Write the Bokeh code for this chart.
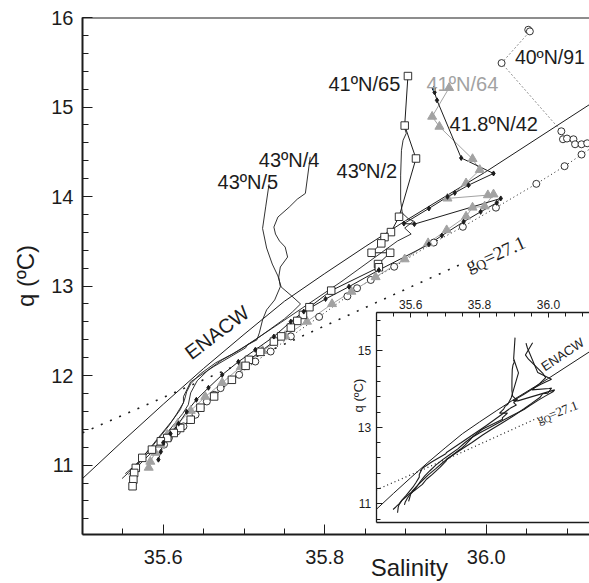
from bokeh.plotting import figure
from bokeh.models import Range1d, LinearAxis, FixedTicker, Span, Label, PrintfTickFormatter
from bokeh.embed import file_html
from bokeh.resources import INLINE
import math

FONT = "Liberation Sans"
SERIF = "Liberation Serif"
INK = "#1c1c1c"
GRAY = "#a2a2a2"

# ---------------- data (Salinity, potential temperature) ----------------
enacw_s = [35.50, 35.55, 35.60, 35.65, 35.70, 35.75, 35.80, 35.85, 35.90, 36.00, 36.13]
enacw_t = [10.85, 11.27, 11.68, 12.08, 12.46, 12.83, 13.14, 13.44, 13.73, 14.28, 15.04]

gam_s = [35.50, 35.74, 35.975]
gam_t = [11.36, 12.31, 13.27]

st65_s = [35.903, 35.899, 35.913, 35.892, 35.882, 35.874, 35.870, 35.858, 35.881, 35.866, 35.867,
          35.808, 35.781, 35.773, 35.766, 35.758, 35.746, 35.737, 35.720, 35.706, 35.702, 35.685,
          35.663, 35.646, 35.634, 35.621, 35.613, 35.605, 35.597, 35.586, 35.574, 35.566, 35.564,
          35.563, 35.562]
st65_t = [15.346, 14.793, 14.425, 13.774, 13.603, 13.547, 13.477, 13.372, 13.372, 13.246, 13.210,
          12.949, 12.764, 12.678, 12.611, 12.536, 12.438, 12.380, 12.265, 12.176, 12.109, 11.953,
          11.767, 11.641, 11.507, 11.415, 11.359, 11.303, 11.266, 11.173, 11.081, 10.969, 10.913,
          10.838, 10.764]

st91_s = [36.052, 36.054, 36.019, 36.093, 36.095, 36.100, 36.108, 36.110, 36.118, 36.125, 36.135,
          36.118, 36.097, 36.062, 36.012, 35.971, 35.935, 35.886, 35.857, 35.840, 35.828, 35.793,
          35.758, 35.733, 35.714, 35.694, 35.671, 35.663, 35.654, 35.646, 35.640, 35.634, 35.625,
          35.617, 35.607, 35.601, 35.594]
st91_t = [15.863, 15.845, 15.491, 14.729, 14.640, 14.648, 14.640, 14.584, 14.584, 14.595, 14.573,
          14.469, 14.339, 14.142, 13.876, 13.662, 13.486, 13.216, 13.068, 12.976, 12.886, 12.656,
          12.438, 12.269, 12.157, 12.009, 11.860, 11.786, 11.711, 11.638, 11.563, 11.507, 11.433,
          11.377, 11.303, 11.229, 11.173]

st64_s = [35.954, 35.933, 35.942, 35.983, 35.992, 35.975, 35.952, 36.002, 36.009, 35.998, 35.983,
          35.975, 35.951, 35.928, 35.899, 35.863, 35.833, 35.809, 35.778, 35.751, 35.723, 35.696,
          35.673, 35.652, 35.634, 35.618, 35.605, 35.597, 35.590, 35.584, 35.582]
st64_t = [15.214, 14.893, 14.781, 14.420, 14.298, 14.149, 13.979, 14.016, 14.025, 13.891, 13.878,
          13.778, 13.625, 13.480, 13.300, 13.101, 12.938, 12.800, 12.603, 12.444, 12.277, 12.098,
          11.920, 11.764, 11.608, 11.463, 11.340, 11.229, 11.139, 11.039, 10.972]

st42_s = [35.935, 35.936, 35.939, 35.969, 36.009, 35.978, 35.961, 35.952, 35.929, 35.898, 35.911,
          36.018, 36.013, 35.993, 35.972, 35.945, 35.929, 35.867, 35.830, 35.801, 35.774, 35.758,
          35.737, 35.714, 35.693, 35.673, 35.656, 35.641, 35.629, 35.619, 35.609, 35.600, 35.597,
          35.594]
st42_t = [15.203, 15.164, 15.075, 14.431, 14.258, 14.127, 14.041, 13.997, 13.867, 13.698, 13.692,
          13.979, 13.930, 13.829, 13.718, 13.564, 13.466, 13.179, 12.993, 12.856, 12.715, 12.603,
          12.436, 12.288, 12.154, 12.009, 11.864, 11.730, 11.596, 11.463, 11.351, 11.251, 11.150,
          11.061]

st2_s = [35.899, 35.901, 35.897, 35.895, 35.894, 35.894, 35.896, 35.904, 35.910, 35.899, 35.907,
         35.890, 35.820, 35.745, 35.704, 35.702, 35.662, 35.634, 35.625, 35.625, 35.616, 35.607,
         35.597, 35.587, 35.576, 35.567, 35.557, 35.549]
st2_t = [14.763, 14.707, 14.629, 14.517, 14.239, 13.960, 13.815, 13.748, 13.726, 13.648, 13.581,
         13.503, 13.046, 12.589, 12.343, 12.310, 12.098, 11.931, 11.764, 11.697, 11.563, 11.440,
         11.329, 11.217, 11.106, 11.006, 10.916, 10.850]

st4_s = [35.782, 35.776, 35.766, 35.756, 35.742, 35.737, 35.739, 35.744, 35.751, 35.754, 35.745,
         35.743, 35.745, 35.738, 35.728, 35.723, 35.719, 35.716, 35.704, 35.686, 35.665, 35.646,
         35.634, 35.629, 35.626, 35.621, 35.612, 35.602, 35.592, 35.582, 35.572, 35.562, 35.553]
st4_t = [14.443, 14.035, 13.971, 13.882, 13.771, 13.659, 13.581, 13.503, 13.436, 13.324, 13.213,
         13.101, 12.993, 12.845, 12.734, 12.622, 12.477, 12.399, 12.343, 12.243, 12.143, 12.020,
         11.909, 11.819, 11.719, 11.619, 11.507, 11.396, 11.284, 11.173, 11.061, 10.972, 10.905]

st5_s = [35.731, 35.727, 35.723, 35.728, 35.735, 35.742, 35.746, 35.759, 35.770, 35.760, 35.750,
         35.733, 35.714, 35.693, 35.673, 35.656, 35.642, 35.634, 35.631, 35.624, 35.614, 35.604,
         35.594, 35.584, 35.574, 35.566, 35.557]
st5_t = [14.138, 13.893, 13.644, 13.425, 13.246, 13.113, 12.990, 12.890, 12.800, 12.711, 12.633,
         12.522, 12.399, 12.277, 12.176, 12.065, 11.942, 11.808, 11.674, 11.574, 11.463, 11.351,
         11.240, 11.128, 11.039, 10.961, 10.894]

x_ticks = [35.6, 35.8, 36.0]
y_ticks = [11, 12, 13, 14, 15, 16]
inset_y_ticks = [11, 13, 15]

# ---------------- layout ----------------
W, H = 589, 583
LEFT, TOP, BOTTOM = 82, 17, 48
PX_S = 807.5                      # main px per salinity unit
X0, Y0, Y1 = 35.5, 10.225, 16.0
X1 = X0 + (W - LEFT) / PX_S

p = figure(width=W, height=H, x_range=Range1d(X0, X1), y_range=Range1d(Y0, Y1),
           output_backend="svg", toolbar_location=None,
           min_border_left=LEFT, min_border_right=0, min_border_top=TOP, min_border_bottom=BOTTOM)
p.outline_line_color = None
p.grid.visible = False
p.background_fill_color = "white"
p.border_fill_color = "white"

fx0, fx1 = LEFT, W
fy0, fy1 = TOP, H - BOTTOM

# inset placement (canvas px) and inset data window
IX_PX, IY_PX = 375.7, 312.7
IPX_S, IPX_T = 344.5, 38.3
IS0, IS1, IT0, IT1 = 35.5, 36.3, 10.5, 16.0
ix_start = IS0 - (IX_PX - fx0) / IPX_S
ix_end = IS0 + (fx1 - IX_PX) / IPX_S
iy_end = IT1 + (IY_PX - fy0) / IPX_T
iy_start = IT1 - (fy1 - IY_PX) / IPX_T
p.extra_x_ranges = {"ix": Range1d(ix_start, ix_end)}
p.extra_y_ranges = {"iy": Range1d(iy_start, iy_end)}

# ---- main axes ----
xa = p.xaxis[0]
xa.ticker = FixedTicker(ticks=x_ticks, minor_ticks=[round(35.5 + 0.05 * i, 2) for i in range(14)])
xa.formatter = PrintfTickFormatter(format="%.1f")
# the original's x title sits right of the frame centre: pad it on the left with no-break spaces
xa.axis_label = "\u00a0" * 22 + "Salinity"
ya = p.yaxis[0]
ya.ticker = FixedTicker(ticks=y_ticks, minor_ticks=[round(10.2 + 0.2 * i, 1) for i in range(30)])
ya.axis_label = "q (ºC)"
for ax in (xa, ya):
    ax.axis_line_width = 2
    ax.axis_line_color = INK
    ax.major_tick_in = 10
    ax.major_tick_out = 0
    ax.minor_tick_in = 6
    ax.minor_tick_out = 0
    ax.major_tick_line_color = INK
    ax.minor_tick_line_color = INK
    ax.major_label_text_font = FONT
    ax.major_label_text_font_size = "20px"
    ax.major_label_text_color = INK
    ax.axis_label_text_font = FONT
    ax.axis_label_text_font_size = "24px"
    ax.axis_label_text_font_style = "normal"
    ax.axis_label_text_color = INK
xa.major_label_standoff = 15
xa.axis_label_standoff = -13
ya.major_label_standoff = 9
ya.axis_label_standoff = 9

p.add_layout(Span(location=Y1, dimension="width", line_color=INK, line_width=2))

# ---- main glyphs ----
p.line(enacw_s, enacw_t, line_color=INK, line_width=1)
p.line(gam_s, gam_t, line_color=INK, line_width=1.6, line_dash="2 8")
for s, t in ((st5_s, st5_t), (st4_s, st4_t), (st2_s, st2_t)):
    p.line(s, t, line_color=INK, line_width=0.9)
p.line(st91_s, st91_t, line_color=INK, line_width=1, line_dash="1 3")
p.line(st64_s, st64_t, line_color=GRAY, line_width=1)
p.line(st42_s, st42_t, line_color=INK, line_width=1)
p.line(st65_s, st65_t, line_color=INK, line_width=1)
p.scatter(st91_s, st91_t, marker="circle", size=7, fill_color="white", line_color=INK, line_width=0.9)
p.scatter(st64_s, st64_t, marker="triangle", size=9, fill_color=GRAY, line_color=GRAY)
p.scatter(st65_s, st65_t, marker="square", size=7.5, fill_color="white", line_color=INK, line_width=0.9)
p.scatter(st42_s, st42_t, marker="diamond", size=5, fill_color=INK, line_color=INK)

def lab(x, y, text, size="20px", color=INK, angle=0.0, font=FONT, **kw):
    p.add_layout(Label(x=x, y=y, text=text, text_font=font, text_font_size=size,
                       text_color=color, angle=angle, text_baseline="alphabetic", **kw))

lab(35.8046, 15.259, "41ºN/65")
lab(35.926, 15.253, "41ºN/64", color=GRAY)
lab(35.9545, 14.813, "41.8ºN/42")
lab(36.0355, 15.554, "40ºN/91", size="19.5px")
lab(35.8146, 14.283, "43ºN/2")
lab(35.7183, 14.406, "43ºN/4")
lab(35.6672, 14.161, "43ºN/5")
lab(35.6297, 12.232, "ENACW", angle=0.646)
lab(35.9755, 13.224, "g", size="19px", font=SERIF, angle=0.42)
lab(35.9880, 13.215, "Q", size="14px", font=SERIF, angle=0.42)
lab(35.9975, 13.300, "=27.1", size="19px", font=SERIF, angle=0.42)

# ---- inset ----
p.quad(left=IS0, right=IS1, bottom=IT0, top=IT1, x_range_name="ix", y_range_name="iy",
       fill_color="white", line_color=None)
p.line(enacw_s, enacw_t, x_range_name="ix", y_range_name="iy", line_color=INK, line_width=1)
p.line(gam_s, gam_t, x_range_name="ix", y_range_name="iy", line_color=INK, line_width=1.2,
       line_dash="1 3")
for s, t in ((st65_s, st65_t), (st64_s, st64_t), (st42_s, st42_t), (st2_s, st2_t)):
    p.line(s, t, x_range_name="ix", y_range_name="iy", line_color=INK, line_width=1.1)

def ilab(x, y, text, size="13px", angle=0.0, font=FONT, **kw):
    p.add_layout(Label(x=x, y=y, text=text, x_range_name="ix", y_range_name="iy", text_font=font,
                       text_font_size=size, text_color=INK, angle=angle, **kw))

ilab(35.9827, 14.556, "ENACW", angle=0.588, text_baseline="alphabetic")
ilab(35.9682, 13.198, "g", size="13px", font=SERIF, angle=0.37, text_baseline="alphabetic")
ilab(35.9871, 13.193, "Q", size="10px", font=SERIF, angle=0.37, text_baseline="alphabetic")
ilab(36.0022, 13.316, "=27.1", size="13px", font=SERIF, angle=0.37, text_baseline="alphabetic")
ilab(35.4472, 13.83, "q (ºC)", size="13px", angle=math.pi / 2, text_align="center",
     text_baseline="middle")

inset_minor_x = [round(35.5 + 0.05 * i, 2) for i in range(14)]
def inset_axis(side, loc, ticker, bounds):
    ax = LinearAxis(x_range_name="ix", y_range_name="iy", fixed_location=loc, bounds=bounds,
                    ticker=ticker)
    ax.axis_line_color = INK
    ax.axis_line_width = 1.3
    ax.major_tick_in = 5
    ax.major_tick_out = 0
    ax.minor_tick_in = 4
    ax.minor_tick_out = 0
    ax.major_tick_line_color = INK
    ax.minor_tick_line_color = INK
    ax.major_label_text_font = FONT
    ax.major_label_text_font_size = "12px"
    ax.major_label_text_color = INK
    ax.major_label_standoff = 4
    p.add_layout(ax, side)
    return ax

top_ax = inset_axis("above", IT1, FixedTicker(ticks=x_ticks, minor_ticks=inset_minor_x), (IS0, IS1))
top_ax.formatter = PrintfTickFormatter(format="%.1f")
inset_axis("below", IT0, FixedTicker(ticks=[], minor_ticks=[]), (IS0, IS1))
left_ax = inset_axis("left", IS0,
                     FixedTicker(ticks=inset_y_ticks,
                                 minor_ticks=[round(10.6 + 0.4 * i, 1) for i in range(14)]),
                     (IT0, IT1))
left_ax.major_tick_in = 6
left_ax.major_label_standoff = 5

open("out.html", "w").write(file_html(p, INLINE))
